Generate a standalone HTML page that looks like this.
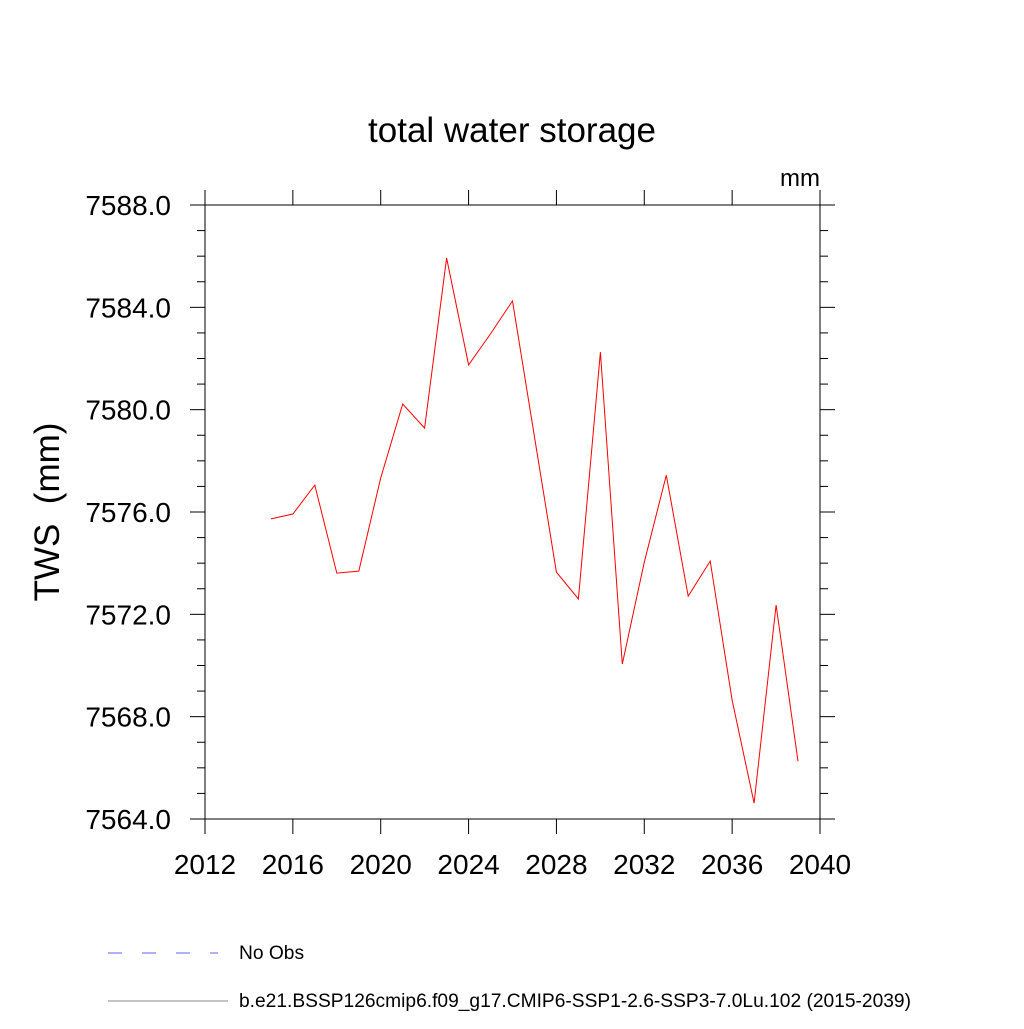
<!DOCTYPE html>
<html><head><meta charset="utf-8"><style>
body{margin:0;background:#fff}
svg text{font-family:"Liberation Sans",sans-serif;fill:#000}
</style></head><body>
<svg id="chart" width="1024" height="1024" viewBox="0 0 1024 1024" xmlns="http://www.w3.org/2000/svg">
<rect width="1024" height="1024" fill="#fff"/>
<text x="512" y="142" font-size="35" text-anchor="middle">total water storage</text>
<text x="820" y="186" font-size="24" text-anchor="end">mm</text>
<text transform="translate(59,512) rotate(-90)" font-size="35" text-anchor="middle">TWS&#160; (mm)</text>
<g id="axes"></g>
<g id="series"></g>
<g>
<line x1="108" y1="953" x2="218" y2="953" stroke="#6060ff" stroke-width="1" stroke-dasharray="14,20"/>
<text x="239" y="959" font-size="19.2">No Obs</text>
<line x1="108" y1="1001" x2="228" y2="1001" stroke="#888" stroke-width="1"/>
<text x="239" y="1007" font-size="19.2">b.e21.BSSP126cmip6.f09_g17.CMIP6-SSP1-2.6-SSP3-7.0Lu.102 (2015-2039)</text>
</g>
</svg>
<script>
const years=[2015,2016,2017,2018,2019,2020,2021,2022,2023,2024,2025,2026,2027,2028,2029,2030,2031,2032,2033,2034,2035,2036,2037,2038,2039];
const tws=[7575.73,7575.92,7577.05,7573.61,7573.69,7577.33,7580.22,7579.28,7585.93,7581.75,7582.96,7584.25,7578.93,7573.65,7572.6,7582.25,7570.06,7574.04,7577.44,7572.71,7574.08,7568.65,7564.62,7572.36,7566.26];
const xTicks=[2012,2016,2020,2024,2028,2032,2036,2040];
const yTicks=[7564,7568,7572,7576,7580,7584,7588];
const L=205,R=820,T=205,B=819;
const xMin=2012,xMax=2040,yMin=7564,yMax=7588;
const sx=v=>L+(v-xMin)/(xMax-xMin)*(R-L);
const sy=v=>B-(v-yMin)/(yMax-yMin)*(B-T);
const NS="http://www.w3.org/2000/svg";
const ax=document.getElementById('axes');
function ln(x1,y1,x2,y2,name,w){const l=document.createElementNS(NS,'line');
l.setAttribute('x1',x1);l.setAttribute('y1',y1);l.setAttribute('x2',x2);l.setAttribute('y2',y2);
l.setAttribute('stroke','#000');l.setAttribute('stroke-width',w||1);


ax.appendChild(l);return l;}
function tx(x,y,s,anchor,name){const t=document.createElementNS(NS,'text');
t.setAttribute('x',x);t.setAttribute('y',y);t.setAttribute('font-size','28');t.setAttribute('text-anchor',anchor);t.textContent=s;


ax.appendChild(t);}
ln(L,T,R,T,'plot-frame-top');ln(L,B,R,B,'plot-frame-bottom');ln(L,T,L,B,'plot-frame-left');ln(R,T,R,B,'plot-frame-right');
for(let v=yMin;v<=yMax;v++){const y=sy(v);const maj=(v-yMin)%4===0;const len=maj?15:8;
ln(L-len,y,L,y,maj?'y-major-tick':'y-minor-tick');ln(R,y,R+len,y,maj?'y-major-tick-right':'y-minor-tick-right');}
yTicks.forEach(v=>tx(L-34,sy(v)+10,v.toFixed(1),'end','y-tick-label'));
xTicks.forEach(v=>{const x=sx(v);ln(x,B,x,B+15,'x-major-tick');ln(x,T-15,x,T,'x-major-tick-top');tx(x,874,String(v),'middle','x-tick-label');});
const pts=years.map((y,i)=>sx(y).toFixed(1)+','+sy(tws[i]).toFixed(1)).join(' ');
const pl=document.createElementNS(NS,'polyline');
pl.setAttribute('points',pts);pl.setAttribute('fill','none');pl.setAttribute('stroke','#ff0000');pl.setAttribute('stroke-width','1');


document.getElementById('series').appendChild(pl);
</script>
</body></html>
